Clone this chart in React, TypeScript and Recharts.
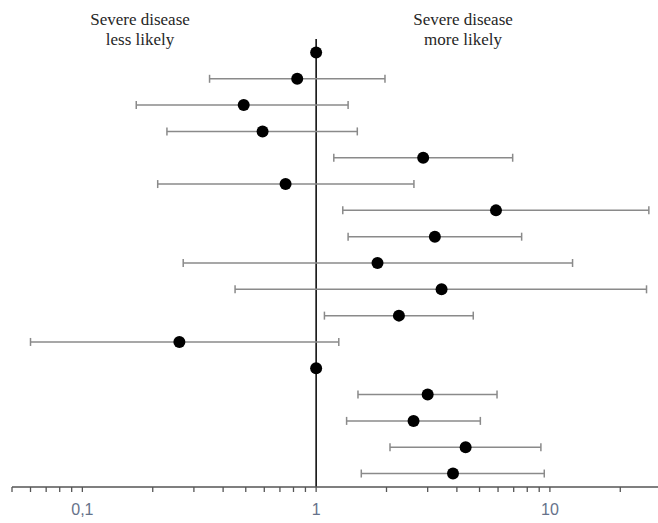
import React from "react";
import {
  ScatterChart,
  Scatter,
  XAxis,
  YAxis,
  ErrorBar,
  ReferenceLine,
} from "recharts";

const rows = [1, 2, 3, 4, 5, 6, 7, 8, 9, 10, 11, 12, 13, 14, 15, 16, 17];
const oddsRatio = [1.0, 0.83, 0.49, 0.59, 2.87, 0.74, 5.88, 3.22, 1.83, 3.44, 2.26, 0.26, 1.0, 3.0, 2.61, 4.36, 3.85];
const ciLower = [1.0, 0.35, 0.17, 0.23, 1.19, 0.21, 1.3, 1.37, 0.27, 0.45, 1.085, 0.06, 1.0, 1.51, 1.35, 2.07, 1.56];
const ciUpper = [1.0, 1.97, 1.37, 1.5, 6.93, 2.62, 26.5, 7.57, 12.5, 25.9, 4.7, 1.25, 1.0, 5.94, 5.04, 9.15, 9.46];

const xTicks = [
  0.05, 0.06, 0.07, 0.08, 0.09, 0.1, 0.2, 0.3, 0.4, 0.5, 0.6, 0.7, 0.8, 0.9, 1,
  2, 3, 4, 5, 6, 7, 8, 9, 10, 20,
];
const labelledTicks: Record<string, string> = { "0.1": "0,1", "1": "1", "10": "10" };

const leftLabel = ["Severe disease", "less likely"];
const rightLabel = ["Severe disease", "more likely"];

const data = rows.map((row, i) => ({
  row,
  or: oddsRatio[i],
  err: [oddsRatio[i] - ciLower[i], ciUpper[i] - oddsRatio[i]],
}));

const Dot = (props: any) => {
  const { cx, cy } = props;
  if (cx == null || cy == null) return null;
  return <circle cx={cx} cy={cy} r={6} fill="#000" />;
};

const labelStyle: React.CSSProperties = {
  position: "absolute",
  top: 10,
  width: 160,
  textAlign: "center",
  fontFamily: "'Liberation Serif', serif",
  fontSize: 17,
  lineHeight: "20px",
  color: "#262626",
};

export default function App() {
  return (
    <div style={{ position: "absolute", left: 0, top: 0, width: 658, height: 523, background: "#fff" }}>
      <ScatterChart
        width={658}
        height={523}
        margin={{ top: 39, right: 0, bottom: 0, left: 12 }}
      >
        <XAxis
          type="number"
          dataKey="or"
          scale="log"
          domain={[0.05, 29]}
          allowDataOverflow
          ticks={xTicks}
          interval={0}
          height={36}
          tickSize={5}
          tickMargin={12}
          stroke="#555"
          strokeWidth={1.3}
          tickFormatter={(v: number) => labelledTicks[String(v)] ?? ""}
          tick={{ fill: "#66728a", fontSize: 16, fontFamily: "'Liberation Sans', Arial, sans-serif" }}
        />
        <YAxis type="number" dataKey="row" domain={[0.488, 17.512]} reversed hide />
        <ReferenceLine x={1} stroke="#000" strokeWidth={1.5} />
        <Scatter data={data} shape={<Dot />} isAnimationActive={false}>
          <ErrorBar
            dataKey="err"
            direction="x"
            width={4}
            stroke="#8a8a8a"
            strokeWidth={1.5}
            isAnimationActive={false}
          />
        </Scatter>
      </ScatterChart>
      <div style={{ ...labelStyle, left: 60 }}>
        {leftLabel[0]}
        <br />
        {leftLabel[1]}
      </div>
      <div style={{ ...labelStyle, left: 383 }}>
        {rightLabel[0]}
        <br />
        {rightLabel[1]}
      </div>
    </div>
  );
}
